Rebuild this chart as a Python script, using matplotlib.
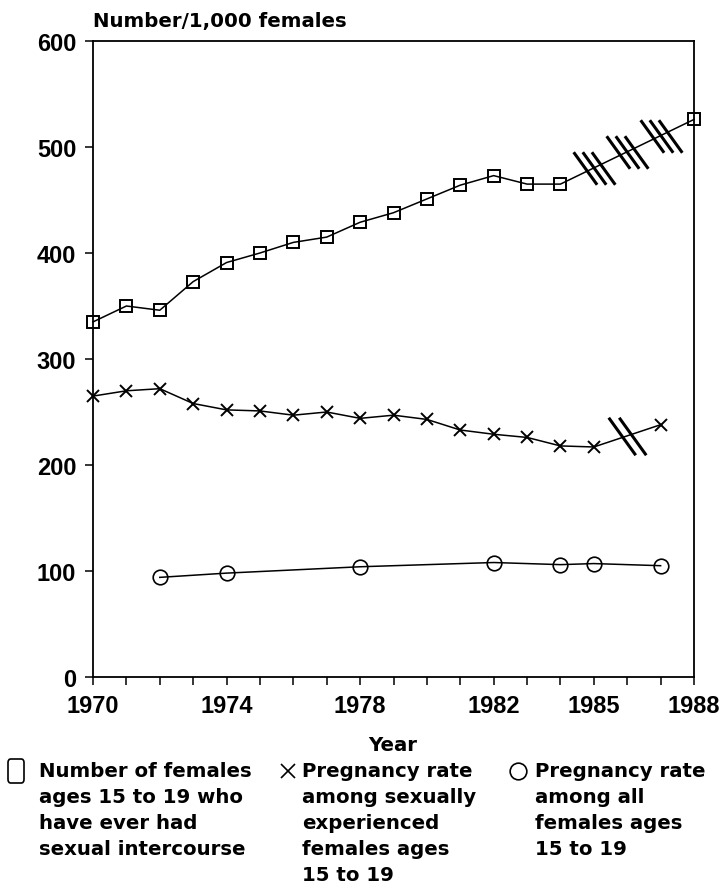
import matplotlib
matplotlib.use("Agg")
import matplotlib.pyplot as plt
import numpy as np
from matplotlib.path import Path
from matplotlib.lines import Line2D
from matplotlib.patches import FancyBboxPatch

plt.rcParams["font.family"] = ["Liberation Sans", "DejaVu Sans"]
plt.rcParams["font.weight"] = "bold"

# data
sq_years = [1970, 1971, 1972, 1973, 1974, 1975, 1976, 1977, 1978, 1979,
            1980, 1981, 1982, 1983, 1984, 1988]
sq_vals = [335, 350, 346, 373, 391, 400, 410, 415, 429, 438,
           451, 464, 473, 465, 465, 526]

x_years = [1970, 1971, 1972, 1973, 1974, 1975, 1976, 1977, 1978, 1979,
           1980, 1981, 1982, 1983, 1984, 1985, 1987]
x_vals = [265, 270, 272, 258, 252, 251, 247, 250, 244, 247,
          243, 233, 229, 226, 218, 217, 238]

c_years = [1972, 1974, 1978, 1982, 1984, 1985, 1987]
c_vals = [94, 98, 104, 108, 106, 107, 105]

# years where the line is only interpolated (break marks)
sq_breaks = [1985, 1986, 1987]
x_breaks = [1986]

tick_years = list(range(1970, 1989))
label_years = [1970, 1974, 1978, 1982, 1985, 1988]
y_ticks = [0, 100, 200, 300, 400, 500, 600]


def slash_marker(n):
    verts, codes = [], []
    offs = np.linspace(-0.28 * (n - 1) / 2, 0.28 * (n - 1) / 2, n)
    for d in offs:
        verts += [(d - 0.36, 0.5), (d + 0.36, -0.5)]
        codes += [Path.MOVETO, Path.LINETO]
    return Path(verts, codes)


W, H = 720, 895
fig = plt.figure(figsize=(W / 100, H / 100), dpi=100)
ax = fig.add_axes([93 / W, 1 - 678 / H, (694 - 93) / W, (678 - 42) / H])

lw = 1.1
ax.plot(sq_years, sq_vals, color="black", lw=lw, marker="s", ms=9,
        mfc="none", mec="black", mew=1.4, clip_on=False)
ax.plot(x_years, x_vals, color="black", lw=lw, marker="x", ms=9, mew=1.4,
        clip_on=False)
ax.plot(c_years, c_vals, color="black", lw=lw, marker="o", ms=10.5,
        mfc="none", mec="black", mew=1.2, clip_on=False)

ax.plot(sq_breaks, np.interp(sq_breaks, sq_years, sq_vals), ls="none",
        marker=slash_marker(3), ms=30, mew=2.2, color="black")
ax.plot(x_breaks, np.interp(x_breaks, x_years, x_vals), ls="none",
        marker=slash_marker(2), ms=27, mew=2.2, color="black")

ax.set_xlim(1970, 1988)
ax.set_ylim(0, 600)
ax.set_xticks(tick_years)
ax.set_xticklabels([str(y) if y in label_years else "" for y in tick_years])
ax.set_yticks(y_ticks)
ax.tick_params(direction="out", length=6, width=1.1, labelsize=17, pad=6)
for s in ax.spines.values():
    s.set_linewidth(1.3)

txt_font = ["DejaVu Sans"]
txt_fs = 14.2
fig.text(93 / W, 1 - 21 / H, "Number/1,000 females", fontsize=txt_fs,
         family=txt_font, fontweight="bold", ha="left", va="center")
fig.text(393 / W, 1 - 746 / H, "Year", fontsize=txt_fs, family=txt_font,
         fontweight="bold", ha="center", va="center")

# legend built by hand under the axis
line_h = 26
y0 = 772
entries = [
    (39, "Number of females\nages 15 to 19 who\nhave ever had\nsexual intercourse"),
    (302, "Pregnancy rate\namong sexually\nexperienced\nfemales ages\n15 to 19"),
    (535, "Pregnancy rate\namong all\nfemales ages\n15 to 19"),
]
for tx, txt in entries:
    for i, line in enumerate(txt.split("\n")):
        fig.text(tx / W, 1 - (y0 + i * line_h) / H, line, fontsize=txt_fs,
                 family=txt_font, fontweight="bold", ha="left", va="center")

# legend symbols
fig.add_artist(FancyBboxPatch((8 / W, 1 - (y0 + 12) / H), 16 / W, 24 / H,
                              boxstyle="round,pad=0,rounding_size=0.004",
                              fc="none", ec="black", lw=1.2,
                              transform=fig.transFigure))
fig.add_artist(Line2D([288 / W], [1 - y0 / H], marker="x", ms=10, mew=1.2,
                      color="black", ls="none", transform=fig.transFigure))
fig.add_artist(Line2D([518 / W], [1 - y0 / H], marker="o", ms=12, mew=1.2,
                      mfc="none", mec="black", ls="none",
                      transform=fig.transFigure))

fig.savefig("out.png", dpi=100)
